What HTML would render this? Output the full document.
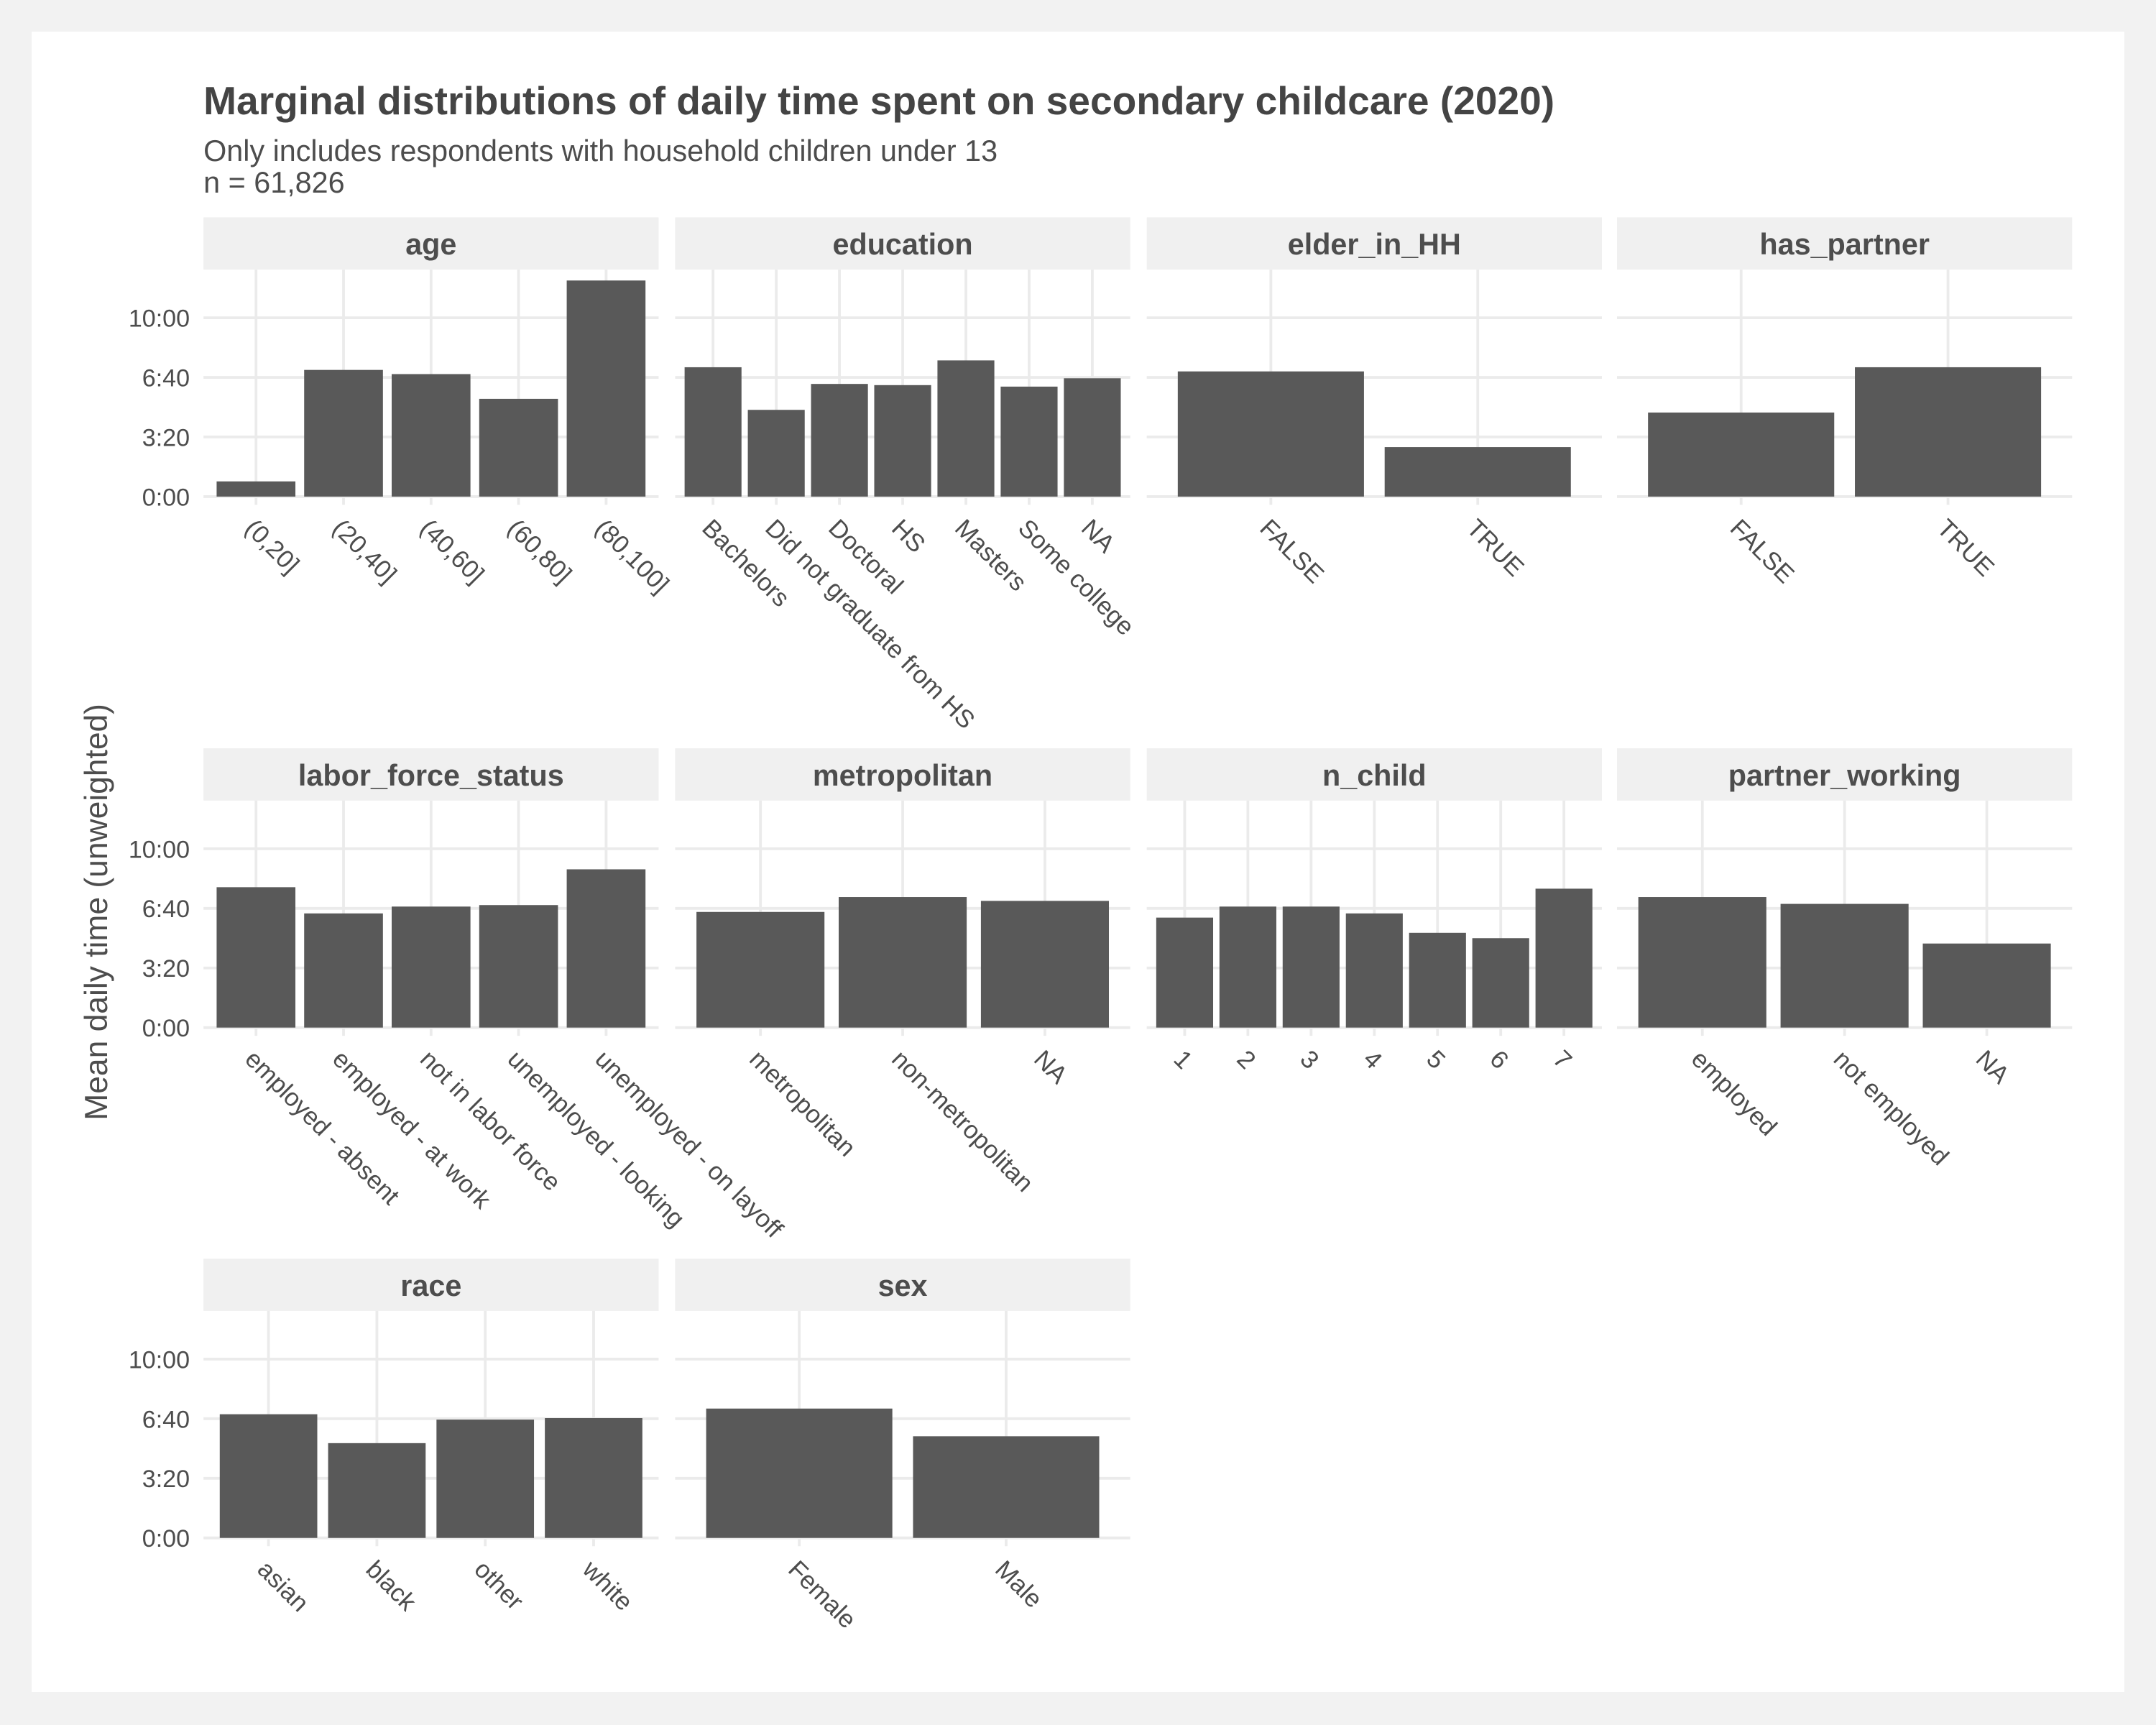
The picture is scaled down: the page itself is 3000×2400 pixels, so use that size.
<!DOCTYPE html>
<html><head><meta charset="utf-8"><style>
html,body{margin:0;padding:0;background:#f2f2f2;}
svg{display:block;font-family:"Liberation Sans",Arial,sans-serif;}
</style></head><body>
<svg id="chart" width="3000" height="2400" viewBox="0 0 1568 1254" preserveAspectRatio="none" xmlns="http://www.w3.org/2000/svg">
<rect x="0" y="0" width="1568" height="1254" fill="#f2f2f2"/>
<rect x="23" y="23" width="1522" height="1207" fill="#ffffff"/>
<text x="148" y="83" font-size="28.8" font-weight="bold" fill="#444">Marginal distributions of daily time spent on secondary childcare (2020)</text>
<text x="148" y="117" font-size="21.6" fill="#4d4d4d">Only includes respondents with household children under 13</text>
<text x="148" y="140" font-size="21.6" fill="#4d4d4d">n = 61,826</text>
<text transform="translate(78,663) rotate(-90)" text-anchor="middle" font-size="23.2" fill="#4d4d4d">Mean daily time (unweighted)</text>
<g id="panels"></g>
</svg>
<script>
// Values are mean minutes per day
const facetNames = ["age","education","elder_in_HH","has_partner","labor_force_status","metropolitan","n_child","partner_working","race","sex"];
const ageCats = ["(0,20]","(20,40]","(40,60]","(60,80]","(80,100]"];
const ageVals = [51,425,411,328,725];
const eduCats = ["Bachelors","Did not graduate from HS","Doctoral","HS","Masters","Some college","NA"];
const eduVals = [434,291,378,374,457,369,397];
const elderCats = ["FALSE","TRUE"];
const elderVals = [420,166];
const partnerCats = ["FALSE","TRUE"];
const partnerVals = [282,434];
const laborCats = ["employed - absent","employed - at work","not in labor force","unemployed - looking","unemployed - on layoff"];
const laborVals = [471,383,406,411,531];
const metroCats = ["metropolitan","non-metropolitan","NA"];
const metroVals = [388,438,425];
const childCats = ["1","2","3","4","5","6","7"];
const childVals = [369,406,406,383,318,300,466];
const pworkCats = ["employed","not employed","NA"];
const pworkVals = [438,415,282];
const raceCats = ["asian","black","other","white"];
const raceVals = [415,318,397,402];
const sexCats = ["Female","Male"];
const sexVals = [434,341];
const yTicks = [0,200,400,600];
const yTickLabels = ["0:00","3:20","6:40","10:00"];

const catsList=[ageCats,eduCats,elderCats,partnerCats,laborCats,metroCats,childCats,pworkCats,raceCats,sexCats];
const valsList=[ageVals,eduVals,elderVals,partnerVals,laborVals,metroVals,childVals,pworkVals,raceVals,sexVals];
const NS="http://www.w3.org/2000/svg";
const root=document.getElementById('panels');
const colX=[148,491,834,1176], panelW=331;
const rowStrip=[158,544,915], rowY0=[361,747,1118];
const PX_PER_MIN=130/600;
function mk(tag,attrs,parent){const e=document.createElementNS(NS,tag);for(const k in attrs)e.setAttribute(k,attrs[k]);(parent||root).appendChild(e);return e;}
facetNames.forEach((name,fi)=>{
  const col=fi%4,row=Math.floor(fi/4);
  const left=colX[col],y0=rowY0[row],sy=rowStrip[row];
  const cats=catsList[fi],vals=valsList[fi];
  const g=mk('g',{});
  
  
  const strip=mk('rect',{x:left,y:sy,width:panelW,height:38,fill:'#f0f0f0'},g);
  
  
  const st=mk('text',{x:left+panelW/2,y:sy+27,'text-anchor':'middle','font-size':21.6,'font-weight':'bold',fill:'#4d4d4d'},g);
  st.textContent=name;
  
  
  const yScale=v=>y0-v*PX_PER_MIN;
  const top=sy+38;
  yTicks.forEach((t,i)=>{
    const gl=mk('line',{x1:left,x2:left+panelW,y1:yScale(t),y2:yScale(t),stroke:'#ebebeb','stroke-width':2},g);
    
    
    if(col===0){
      const tl=mk('text',{x:left-10,y:yScale(t)+6.5,'text-anchor':'end','font-size':17.8,fill:'#4d4d4d'},g);
      tl.textContent=yTickLabels[i];
      
      
    }
  });
  const n=cats.length, unit=panelW/(n+0.2);
  const xScale=i=>left+(0.6+i)*unit;
  cats.forEach((c,i)=>{
    const cx=xScale(i);
    const gl=mk('line',{x1:cx,x2:cx,y1:top,y2:y0+6,stroke:'#ebebeb','stroke-width':2},g);
    
    
  });
  cats.forEach((c,i)=>{
    const cx=xScale(i),bw=unit*0.9;
    const b=mk('rect',{x:cx-bw/2,y:yScale(vals[i]),width:bw,height:vals[i]*PX_PER_MIN,fill:'#595959'},g);
    
    
    const tl=mk('text',{transform:'translate('+(cx-9)+','+(y0+24)+') rotate(45)','font-size':18.2,fill:'#4d4d4d'},g);
    tl.textContent=c;
    
    
  });
});
</script>
</body></html>
